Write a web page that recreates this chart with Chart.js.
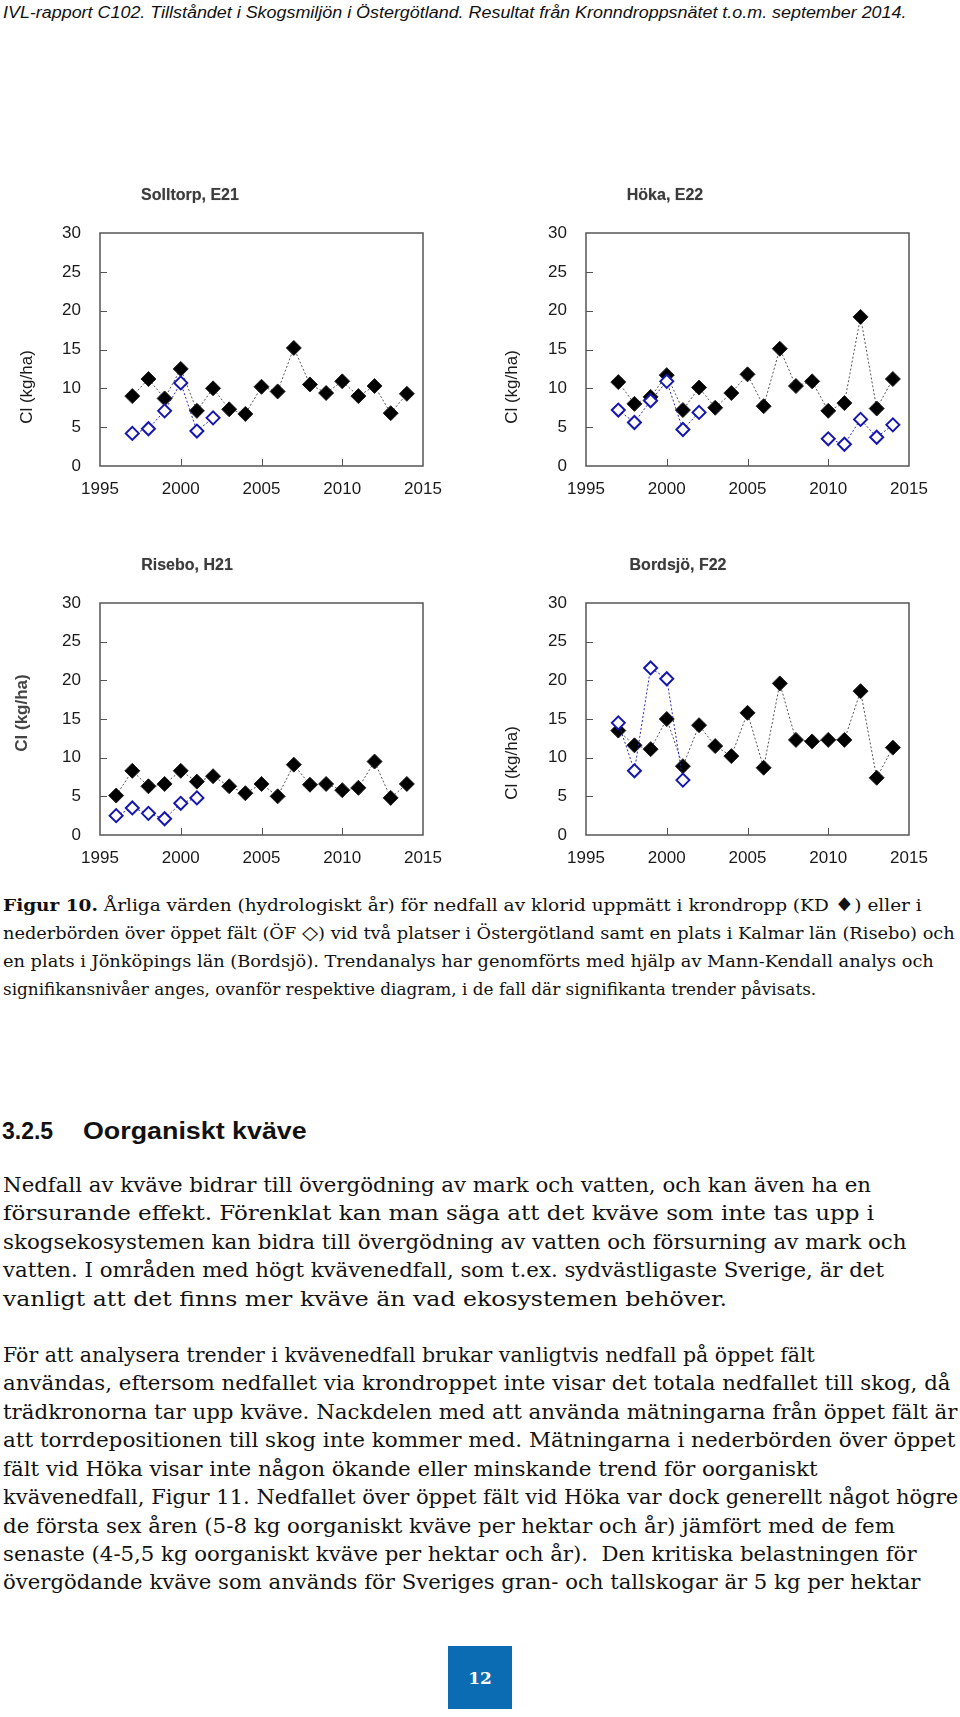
<!DOCTYPE html>
<html>
<head>
<meta charset="utf-8">
<script src="https://cdn.jsdelivr.net/npm/chart.js@4.4.1/dist/chart.umd.min.js"></script>
<style>
  html, body { margin: 0; padding: 0; background: #fff; }
  body { width: 960px; height: 1717px; position: relative; overflow: hidden; color: #111; }
  canvas { position: absolute; }
  .ttl { position: absolute; font: bold 16px "Liberation Sans", Arial, sans-serif; color: #3c3c3c;
         transform: translate(-50%, -50%); white-space: nowrap; text-shadow: 0 0 1px #999; }
  .yt { position: absolute; font: 17px "Liberation Sans", Arial, sans-serif; color: #1a1a1a;
        transform: translate(-50%, -50%) rotate(-90deg); white-space: nowrap; }
  .ln { position: absolute; white-space: nowrap; transform-origin: 0 50%; transform: translateY(-50%); }
  .hdr { font: italic 16px "Liberation Sans", Arial, sans-serif; color: #111; }
  .cap { font: 16px "DejaVu Serif", Georgia, serif; color: #111; }
  .cap .sym { font-size: 19px; }
  .body { font: 19.5px "DejaVu Serif", Georgia, serif; color: #111; }
  .h3 { font: bold 23px "Liberation Sans", Arial, sans-serif; color: #111; }
  #pg { position: absolute; left: 448px; top: 1646px; width: 64px; height: 63px; background: #0b6bb3;
        color: #fff; font: bold 17px "DejaVu Serif", Georgia, serif; display: flex;
        align-items: center; justify-content: center; }
</style>
</head>
<body>

<canvas id="c1"></canvas>
<canvas id="c2"></canvas>
<canvas id="c3"></canvas>
<canvas id="c4"></canvas>

<div class="ttl" style="left:190px;top:195px">Solltorp, E21</div>
<div class="ttl" style="left:665px;top:195px">Höka, E22</div>
<div class="ttl" style="left:187px;top:565px">Risebo, H21</div>
<div class="ttl" style="left:678px;top:565px">Bordsjö, F22</div>

<div class="yt" style="left:27px;top:387px">Cl (kg/ha)</div>
<div class="yt" style="left:512px;top:387px">Cl (kg/ha)</div>
<div class="yt" style="left:22px;top:713px;font-weight:bold;color:#444">Cl (kg/ha)</div>
<div class="yt" style="left:512px;top:763px">Cl (kg/ha)</div>

<div class="ln hdr" data-w="903" style="left:3px;top:13px">IVL-rapport C102. Tillståndet i Skogsmiljön i Östergötland. Resultat från Kronndroppsnätet t.o.m. september 2014.</div>

<div class="ln cap" data-w="919" style="left:3px;top:904px"><b>Figur 10.</b> Årliga värden (hydrologiskt år) för nedfall av klorid uppmätt i krondropp (KD <span class="sym">♦</span>) eller i</div>
<div class="ln cap" data-w="952" style="left:3px;top:932px">nederbörden över öppet fält (ÖF <span class="sym">◇</span>) vid två platser i Östergötland samt en plats i Kalmar län (Risebo) och</div>
<div class="ln cap" data-w="931" style="left:3px;top:961px">en plats i Jönköpings län (Bordsjö). Trendanalys har genomförts med hjälp av Mann-Kendall analys och</div>
<div class="ln cap" data-w="813" style="left:3px;top:989px">signifikansnivåer anges, ovanför respektive diagram, i de fall där signifikanta trender påvisats.</div>

<div class="ln h3" style="left:2px;top:1131px">3.2.5</div>
<div class="ln h3" data-w="224" style="left:83px;top:1131px">Oorganiskt kväve</div>

<div class="ln body" data-w="868" style="left:3px;top:1185px">Nedfall av kväve bidrar till övergödning av mark och vatten, och kan även ha en</div>
<div class="ln body" data-w="871" style="left:3px;top:1213px">försurande effekt. Förenklat kan man säga att det kväve som inte tas upp i</div>
<div class="ln body" data-w="904" style="left:3px;top:1242px">skogsekosystemen kan bidra till övergödning av vatten och försurning av mark och</div>
<div class="ln body" data-w="881" style="left:3px;top:1270px">vatten. I områden med högt kvävenedfall, som t.ex. sydvästligaste Sverige, är det</div>
<div class="ln body" data-w="724" style="left:3px;top:1299px">vanligt att det finns mer kväve än vad ekosystemen behöver.</div>

<div class="ln body" data-w="812" style="left:3px;top:1355px">För att analysera trender i kvävenedfall brukar vanligtvis nedfall på öppet fält</div>
<div class="ln body" data-w="948" style="left:3px;top:1383px">användas, eftersom nedfallet via krondroppet inte visar det totala nedfallet till skog, då</div>
<div class="ln body" data-w="955" style="left:3px;top:1412px">trädkronorna tar upp kväve. Nackdelen med att använda mätningarna från öppet fält är</div>
<div class="ln body" data-w="952" style="left:3px;top:1440px">att torrdepositionen till skog inte kommer med. Mätningarna i nederbörden över öppet</div>
<div class="ln body" data-w="815" style="left:3px;top:1469px">fält vid Höka visar inte någon ökande eller minskande trend för oorganiskt</div>
<div class="ln body" data-w="955" style="left:3px;top:1497px">kvävenedfall, Figur 11. Nedfallet över öppet fält vid Höka var dock generellt något högre</div>
<div class="ln body" data-w="892" style="left:3px;top:1526px">de första sex åren (5-8 kg oorganiskt kväve per hektar och år) jämfört med de fem</div>
<div class="ln body" data-w="914" style="left:3px;top:1554px">senaste (4-5,5 kg oorganiskt kväve per hektar och år).&nbsp; Den kritiska belastningen för</div>
<div class="ln body" data-w="917" style="left:3px;top:1582px">övergödande kväve som används för Sveriges gran- och tallskogar är 5 kg per hektar</div>

<div id="pg">12</div>

<script>
// hydrologiska år (plottade på slutåret)
const years = [1996, 1997, 1998, 1999, 2000, 2001, 2002, 2003, 2004, 2005,
               2006, 2007, 2008, 2009, 2010, 2011, 2012, 2013, 2014];
const xTicks = [1995, 2000, 2005, 2010, 2015];
const yTicks = [0, 5, 10, 15, 20, 25, 30];

// krondropp (KD, svarta romber) och öppet fält (ÖF, blå romber), kg/ha
const solltorpKD = [null, 9.0, 11.2, 8.7, 12.5, 7.1, 10.0, 7.3, 6.7, 10.2, 9.6, 15.2, 10.5, 9.4, 10.9, 9.0, 10.3, 6.8, 9.3];
const solltorpOF = [null, 4.2, 4.8, 7.1, 10.7, 4.5, 6.2, null, null, null, null, null, null, null, null, null, null, null, null];
const hokaKD = [null, 10.8, 8.0, 8.9, 11.7, 7.2, 10.1, 7.5, 9.4, 11.8, 7.7, 15.1, 10.3, 10.9, 7.1, 8.1, 19.2, 7.4, 11.2];
const hokaOF = [null, 7.2, 5.6, 8.4, 10.9, 4.7, 6.9, null, null, null, null, null, null, null, 3.5, 2.8, 6.0, 3.7, 5.3];
const riseboKD = [5.1, 8.3, 6.3, 6.6, 8.3, 6.9, 7.6, 6.3, 5.4, 6.6, 5.0, 9.1, 6.5, 6.6, 5.8, 6.1, 9.5, 4.8, 6.6];
const riseboOF = [2.5, 3.5, 2.8, 2.1, 4.1, 4.8, null, null, null, null, null, null, null, null, null, null, null, null, null];
const bordsjoKD = [null, 13.5, 11.6, 11.1, 15.0, 8.9, 14.2, 11.5, 10.2, 15.8, 8.7, 19.6, 12.3, 12.1, 12.3, 12.3, 18.6, 7.4, 11.3];
const bordsjoOF = [null, 14.5, 8.3, 21.6, 20.2, 7.1, null, null, null, null, null, null, null, null, null, null, null, null, null];

const Y_W = 100, X_H = 44, PAD_T = 33, PAD_R = 27;

const pts = arr => years.map((yr, i) => ({ x: yr, y: arr[i] }));

// ram runt diagramytan + korta ticks inåt
const framePlugin = {
    id: 'frame',
    afterDatasetsDraw(chart) {
        const { ctx, chartArea: a, scales } = chart;
        ctx.save();
        ctx.strokeStyle = '#555';
        ctx.lineWidth = 1.5;
        ctx.strokeRect(a.left, a.top, a.right - a.left, a.bottom - a.top);
        ctx.lineWidth = 1;
        yTicks.slice(1, -1).forEach(v => {
            const y = Math.round(scales.y.getPixelForValue(v)) + 0.5;
            ctx.beginPath(); ctx.moveTo(a.left, y); ctx.lineTo(a.left + 7, y); ctx.stroke();
        });
        xTicks.slice(1, -1).forEach(v => {
            const x = Math.round(scales.x.getPixelForValue(v)) + 0.5;
            ctx.beginPath(); ctx.moveTo(x, a.bottom); ctx.lineTo(x, a.bottom - 7); ctx.stroke();
        });
        ctx.restore();
    }
};

function makeChart(id, area, kd, of) {
    const cv = document.getElementById(id);
    const left = area.l - Y_W, top = area.t - PAD_T;
    const w = area.r + PAD_R - left, h = area.b + X_H - top;
    cv.width = w; cv.height = h;
    cv.style.left = left + 'px'; cv.style.top = top + 'px';
    cv.style.width = w + 'px'; cv.style.height = h + 'px';

    new Chart(cv.getContext('2d'), {
        type: 'line',
        data: {
            datasets: [{
                label: 'ÖF',
                data: pts(of),
                borderColor: '#2a2ab8',
                borderWidth: 1,
                borderDash: [2, 2],
                pointStyle: 'rectRot',
                pointRadius: 6.5,
                pointBackgroundColor: '#fff',
                pointBorderColor: '#1616b0',
                pointBorderWidth: 2,
                spanGaps: false
            }, {
                label: 'KD',
                data: pts(kd),
                borderColor: '#555',
                borderWidth: 1,
                borderDash: [2, 2],
                pointStyle: 'rectRot',
                pointRadius: 7.5,
                pointBackgroundColor: '#000',
                pointBorderColor: '#222',
                pointBorderWidth: 1,
                spanGaps: false
            }]
        },
        options: {
            responsive: false,
            animation: false,
            devicePixelRatio: 1,
            layout: { padding: { top: PAD_T, right: PAD_R, left: 0, bottom: 0 } },
            plugins: { legend: { display: false }, tooltip: { enabled: false } },
            scales: {
                x: {
                    type: 'linear', min: 1995, max: 2015,
                    afterBuildTicks: s => { s.ticks = xTicks.map(v => ({ value: v })); },
                    afterFit: s => { s.height = X_H; },
                    grid: { display: false },
                    border: { display: false },
                    ticks: {
                        padding: 5, color: '#1a1a1a', maxRotation: 0, autoSkip: false,
                        font: { family: 'Liberation Sans', size: 17 },
                        callback: v => String(v)
                    }
                },
                y: {
                    type: 'linear', min: 0, max: 30,
                    afterBuildTicks: s => { s.ticks = yTicks.map(v => ({ value: v })); },
                    afterFit: s => { s.width = Y_W; },
                    grid: { display: false },
                    border: { display: false },
                    ticks: {
                        padding: 11, color: '#1a1a1a',
                        font: { family: 'Liberation Sans', size: 17 },
                        callback: v => String(v)
                    }
                }
            }
        },
        plugins: [framePlugin]
    });
}

makeChart('c1', { l: 100, t: 233, r: 423, b: 466 }, solltorpKD, solltorpOF);
makeChart('c2', { l: 586, t: 233, r: 909, b: 466 }, hokaKD, hokaOF);
makeChart('c3', { l: 100, t: 603, r: 423, b: 835 }, riseboKD, riseboOF);
makeChart('c4', { l: 586, t: 603, r: 909, b: 835 }, bordsjoKD, bordsjoOF);

// textrader sträcks till samma bredd som i originalet
function fitLines() {
    document.querySelectorAll('.ln[data-w]').forEach(el => {
        const target = Number(el.dataset.w);
        const w = el.offsetWidth;
        if (w > 0) el.style.transform = 'translateY(-50%) scaleX(' + (target / w) + ')';
    });
}
if (document.fonts && document.fonts.ready) document.fonts.ready.then(fitLines);
else fitLines();
</script>
</body>
</html>
